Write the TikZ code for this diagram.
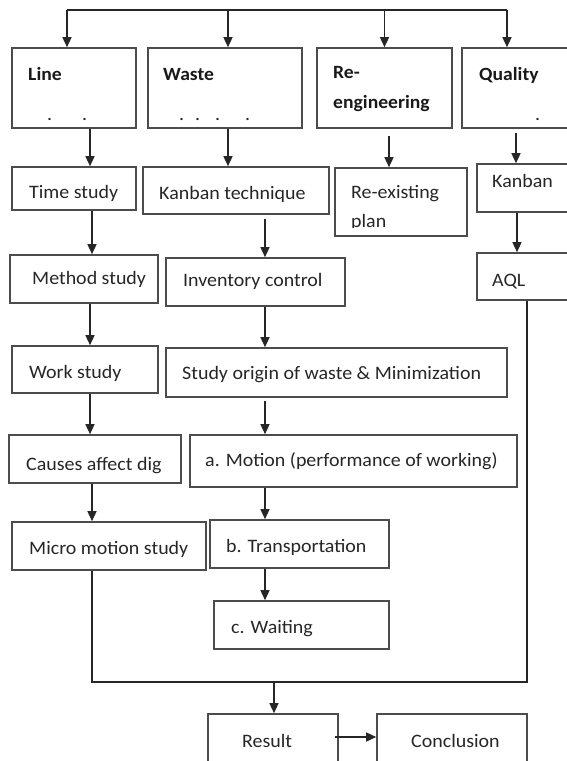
\documentclass[tikz,border=0pt]{standalone}
\usepackage{fontspec}
\setmainfont{Carlito}[FakeStretch=1.05]
\usetikzlibrary{arrows.meta}
\begin{document}
\begin{tikzpicture}[x=1pt,y=-1pt,
  box/.style={draw=black!70,line width=1.6pt,inner sep=0pt,rectangle},
  txt/.style={anchor=base west,inner sep=0pt,text=black!85,font=\fontsize{19}{22}\selectfont},
  hdr/.style={anchor=base west,inner sep=0pt,text=black!90,font=\fontsize{18.7}{24}\selectfont\bfseries},
  conn/.style={draw=black!85,line width=1.4pt},
  arr/.style={conn,-{Triangle[length=10pt,width=9pt]}}]
\clip (0,0) rectangle (567,761);
% header boxes
\node[box,minimum width=124pt,minimum height=80pt] (line) at (74,88) {};
\node[box,minimum width=154pt,minimum height=80pt] (waste) at (225,88) {};
\node[box,minimum width=135pt,minimum height=80pt] (reeng) at (384.5,88) {};
\node[box,minimum width=138pt,minimum height=80pt] (quality) at (531,88) {};
\node[hdr] (line-t) at (28,80) {Line};
\node[hdr] (waste-t) at (163,80) {Waste};
\node[hdr] (reeng-t1) at (333,78) {Re-};
\node[hdr] (reeng-t2) at (333,108) {engineering};
\node[hdr] (quality-t) at (479,80) {Quality};
\node[txt] (line-d1) at (47,120) {.};
\node[txt] (line-d2) at (82,120) {.};
\node[txt] (waste-d1) at (179,120) {.};
\node[txt] (waste-d2) at (195,120) {.};
\node[txt] (waste-d3) at (215,120) {.};
\node[txt] (waste-d4) at (245,120) {.};
\node[txt] (quality-d1) at (535,120) {.};
% other boxes
\node[box,minimum width=124pt,minimum height=43pt] (time) at (74,188.5) {};
\node[box,minimum width=186pt,minimum height=47pt] (kanbant) at (236,190.5) {};
\node[box,minimum width=132pt,minimum height=68pt] (reexist) at (401,202) {};
\node[box,minimum width=123pt,minimum height=48pt] (kanban) at (538.5,188) {};
\node[box,minimum width=148pt,minimum height=48pt] (method) at (84,279) {};
\node[box,minimum width=179pt,minimum height=48pt] (inventory) at (255.5,282) {};
\node[box,minimum width=123pt,minimum height=47pt] (aql) at (538.5,276.5) {};
\node[box,minimum width=146pt,minimum height=47pt] (work) at (85,369.5) {};
\node[box,minimum width=341pt,minimum height=49pt] (origin) at (336.5,372.5) {};
\node[box,minimum width=172pt,minimum height=48pt] (causes) at (95,459) {};
\node[box,minimum width=327pt,minimum height=52pt] (motion) at (353.5,461) {};
\node[box,minimum width=194pt,minimum height=48pt] (micro) at (109,546) {};
\node[box,minimum width=179pt,minimum height=48pt] (transport) at (299.5,544) {};
\node[box,minimum width=175pt,minimum height=48pt] (waiting) at (301.5,625) {};
\node[box,minimum width=130pt,minimum height=76pt] (result) at (273,752) {};
\node[box,minimum width=150pt,minimum height=76pt] (conclusion) at (452,752) {};
% texts
\node[txt] (time-t) at (29,198) {Time study};
\node[txt] (kanbant-t) at (159,199) {Kanban technique};
\node[txt] (reexist-t1) at (351,198) {Re-existing};
\begin{scope}
\clip (336,200) rectangle (466,227.6);
\node[txt] (reexist-t2) at (351,227) {plan};
\end{scope}
\node[txt] (kanban-t) at (492,187) {Kanban};
\node[txt] (method-t) at (32,284) {Method study};
\node[txt] (inventory-t) at (183,286) {Inventory control};
\node[txt] (aql-t) at (492,286) {AQL};
\node[txt] (work-t) at (29,378) {Work study};
\node[txt] (origin-t) at (182,379) {Study origin of waste \& Minimization};
\node[txt] (causes-t) at (26,470) {Causes affect dig};
\node[txt] (motion-t) at (205,466) {a. Motion (performance of working)};
\node[txt] (micro-t) at (29,554) {Micro motion study};
\node[txt] (transport-t) at (226,552) {b. Transportation};
\node[txt] (waiting-t) at (231,633) {c. Waiting};
\node[txt] (result-t) at (242,747) {Result};
\node[txt] (conclusion-t) at (411,747) {Conclusion};
% top distribution
\coordinate (tl) at (67,10);
\coordinate (tr) at (507,10);
\draw[conn] (tl) -- (tr);
\draw[arr] (tl) -- (tl |- line.north);
\draw[arr] ([xshift=3pt]waste.north |- tl) -- ([xshift=3pt]waste.north);
\draw[arr] (reeng.north |- tl) -- (reeng.north);
\draw[arr] (tr) -- (tr |- quality.north);
% vertical arrows
\draw[arr] ([xshift=16pt]line.south) -- ([xshift=16pt]line.south |- time.north);
\draw[arr] ([xshift=3pt]waste.south) -- ([xshift=3pt]waste.south |- kanbant.north);
\draw[arr] ([xshift=4.5pt,yshift=-7pt]reeng.south) -- ([xshift=4.5pt]reeng.south |- reexist.north);
\draw[arr] ([xshift=-15pt,yshift=-4pt]quality.south) -- ([xshift=-15pt]quality.south |- kanban.north);
\draw[arr] ([xshift=18pt]time.south) -- ([xshift=18pt]time.south |- method.north);
\draw[arr] ([xshift=29pt,yshift=-4pt]kanbant.south) -- ([xshift=29pt]kanbant.south |- inventory.north);
\draw[arr] ([xshift=-21.5pt]kanban.south) -- ([xshift=-21.5pt]kanban.south |- aql.north);
\draw[arr] ([xshift=6pt]method.south) -- ([xshift=6pt]method.south |- work.north);
\draw[arr] ([xshift=9.5pt]inventory.south) -- ([xshift=9.5pt]inventory.south |- origin.north);
\draw[arr] ([xshift=5pt]work.south) -- ([xshift=5pt]work.south |- causes.north);
\draw[arr] ([xshift=-71.5pt,yshift=-3pt]origin.south) -- ([xshift=-71.5pt]origin.south |- motion.north);
\draw[arr] ([xshift=-3pt]causes.south) -- ([xshift=-3pt]causes.south |- micro.north);
\draw[arr] ([xshift=-88.5pt]motion.south) -- ([xshift=-88.5pt]motion.south |- transport.north);
\draw[arr] ([xshift=-34.5pt]transport.south) -- ([xshift=-34.5pt]transport.south |- waiting.north);
% merge to result
\coordinate (mj) at (274,682);
\draw[conn] ([xshift=-17pt]micro.south) |- (mj);
\draw[conn] ([xshift=-11.5pt]aql.south) |- (mj);
\draw[arr] (mj) -- (mj |- result.north);
\draw[arr] ([xshift=-4pt,yshift=15pt]result.east) -- ([yshift=15pt]conclusion.west);
\end{tikzpicture}
\end{document}
